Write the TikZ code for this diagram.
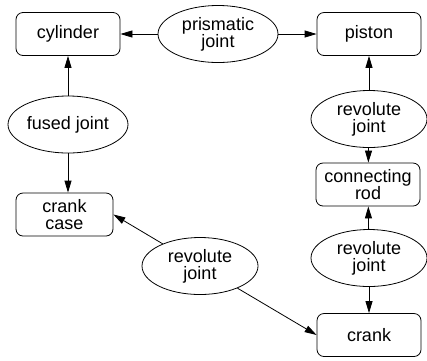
\documentclass[tikz,border=0pt]{standalone}
\usepackage{fontspec}
\setmainfont{Liberation Sans}
\usetikzlibrary{shapes.geometric,arrows.meta}

\begin{document}
\begin{tikzpicture}[x=1pt,y=-1pt,line join=round,
  part/.style={draw,rounded corners=7pt,line width=0.8pt,minimum width=104pt,minimum height=43pt,align=center,inner sep=0pt},
  joint/.style={draw,ellipse,line width=0.8pt,minimum width=116pt,minimum height=57pt,align=center,inner sep=0pt},
  link/.style={line width=0.8pt,-{Triangle[length=12pt,width=7pt]}},
  font=\fontsize{18}{17}\selectfont]
  \useasboundingbox (0,0) rectangle (427,360);
  % the parts
  \node[part] (cyl) at (68,34) {cylinder};
  \node[part] (pis) at (369,34) {piston};
  \node[part,minimum width=97pt] (case) at (64.5,214.5) {crank\\case};
  \node[part] (rod) at (368,184.5) {connecting\\rod};
  \node[part] (crank) at (369,335) {crank};
  % the joints between them
  \node[joint,minimum width=120pt] (pj) at (218,34) {prismatic\\joint};
  \node[joint,minimum width=120pt] (fj) at (68,124.5) {fused joint};
  \node[joint] (rjtop) at (369,119) {revolute\\joint};
  \node[joint] (rjlow) at (369,258) {revolute\\joint};
  \node[joint] (rjmid) at (200,266) {revolute\\joint};
  % connectors
  \draw[link] (pj) -- (cyl);
  \draw[link] (pj) -- (pis);
  \draw[link] (fj) -- (cyl);
  \draw[link] (fj.south) -- (fj.south |- case.north);
  \draw[link] (rjtop) -- (pis);
  \draw[link] (rjtop) -- (rod);
  \draw[link] (rjlow) -- (rod);
  \draw[link] (rjlow) -- (crank);
  \draw[link] (rjmid) -- (case.east);
  \draw[link] (rjmid) -- (crank.west);
\end{tikzpicture}
\end{document}
